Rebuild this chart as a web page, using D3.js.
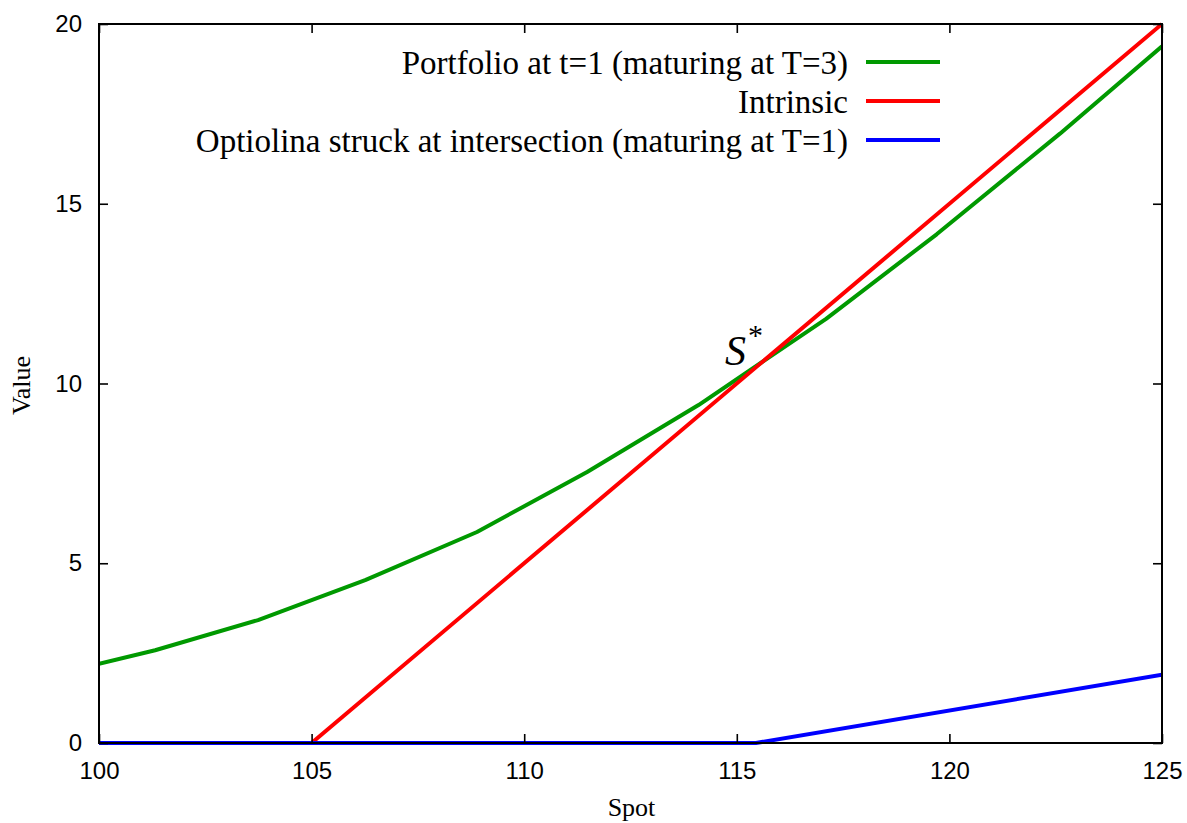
<!DOCTYPE html>
<html>
<head>
<meta charset="utf-8">
<script src="https://cdn.jsdelivr.net/npm/d3@7"></script>
<style>
  html, body { margin: 0; padding: 0; background: #fff; }
  svg { display: block; }
</style>
</head>
<body>
<svg id="chart" width="1187" height="823"></svg>
<script>
// Spot grid and values for each curve
const portfolioSpot  = [100, 101.32, 103.74, 106.26, 108.89, 111.48, 114.1, 117.1, 119.7, 122.6, 125];
const portfolioValue = [2.2, 2.58, 3.42, 4.53, 5.87, 7.54, 9.4, 11.8, 14.15, 16.95, 19.38];
const intrinsicSpot  = [100, 105, 125];
const intrinsicValue = [0, 0, 20];
const optiolinaSpot  = [100, 115.45, 125];
const optiolinaValue = [0, 0, 1.9];
const xTicks = [100, 105, 110, 115, 120, 125];
const yTicks = [0, 5, 10, 15, 20];
const seriesNames = [
  "Portfolio at t=1 (maturing at T=3)",
  "Intrinsic",
  "Optiolina struck at intersection (maturing at T=1)"
];
const seriesColors = ["#009900", "#ff0000", "#0000ff"];
const strikeSpot = 115.45;

const svg = d3.select("#chart");
const plot = { left: 99, right: 1162, top: 24, bottom: 743 };

const x = d3.scaleLinear().domain([100, 125]).range([plot.left, plot.right]);
const y = d3.scaleLinear().domain([0, 20]).range([plot.bottom, plot.top]);

const sansFont = "'Liberation Sans', Arial, sans-serif";
const serifFont = "'Liberation Serif', 'Times New Roman', serif";

// Curves
const series = [
  d3.zip(portfolioSpot, portfolioValue),
  d3.zip(intrinsicSpot, intrinsicValue),
  d3.zip(optiolinaSpot, optiolinaValue)
];
const line = d3.line().x(d => x(d[0])).y(d => y(d[1]));

svg.append("clipPath").attr("id", "plotClip")
  .append("rect")
  .attr("x", plot.left).attr("y", plot.top - 3)
  .attr("width", plot.right - plot.left).attr("height", plot.bottom - plot.top + 6);

svg.append("g").attr("clip-path", "url(#plotClip)")
  .selectAll("path")
  .data(series)
  .join("path")
  .attr("d", line)
  .attr("fill", "none")
  .attr("stroke", (d, i) => seriesColors[i])
  .attr("stroke-width", 4)
  .attr("stroke-linejoin", "round");

// Axes: ticks on all four sides, pointing inward
const tickLen = 9;
const axisStyle = g => {
  g.select(".domain").remove();
  g.selectAll(".tick line").attr("stroke", "#000").attr("stroke-width", 1.6);
  g.selectAll(".tick text").attr("fill", "#000");
};

svg.append("g")
  .attr("transform", `translate(0,${plot.bottom})`)
  .call(d3.axisBottom(x).tickValues(xTicks).tickSizeInner(-tickLen).tickSizeOuter(0).tickPadding(19).tickFormat(d3.format("d")))
  .call(axisStyle)
  .call(g => g.selectAll(".tick text").attr("font-family", sansFont).attr("font-size", 24));

svg.append("g")
  .attr("transform", `translate(0,${plot.top})`)
  .call(d3.axisTop(x).tickValues(xTicks).tickSizeInner(-tickLen).tickSizeOuter(0).tickFormat(""))
  .call(axisStyle);

svg.append("g")
  .attr("transform", `translate(${plot.left},0)`)
  .call(d3.axisLeft(y).tickValues(yTicks).tickSizeInner(-tickLen).tickSizeOuter(0).tickPadding(17).tickFormat(d3.format("d")))
  .call(axisStyle)
  .call(g => g.selectAll(".tick text").attr("font-family", sansFont).attr("font-size", 24));

svg.append("g")
  .attr("transform", `translate(${plot.right},0)`)
  .call(d3.axisRight(y).tickValues(yTicks).tickSizeInner(-tickLen).tickSizeOuter(0).tickFormat(""))
  .call(axisStyle);

// Frame
svg.append("rect")
  .attr("x", plot.left).attr("y", plot.top)
  .attr("width", plot.right - plot.left).attr("height", plot.bottom - plot.top)
  .attr("fill", "none").attr("stroke", "#000").attr("stroke-width", 2);

// Axis titles
svg.append("text")
  .attr("x", (plot.left + plot.right) / 2 + 1).attr("y", 816)
  .attr("text-anchor", "middle")
  .attr("font-family", serifFont).attr("font-size", 26)
  .text("Spot");

svg.append("text")
  .attr("transform", `translate(30,${(plot.top + plot.bottom) / 2 + 2}) rotate(-90)`)
  .attr("text-anchor", "middle")
  .attr("font-family", serifFont).attr("font-size", 26)
  .text("Value");

// Legend
const legend = svg.append("g");
const legendRows = [62, 101, 140];
seriesNames.forEach((name, i) => {
  legend.append("text")
    .attr("x", 848).attr("y", legendRows[i])
    .attr("dy", "0.35em")
    .attr("text-anchor", "end")
    .attr("font-family", serifFont).attr("font-size", 33)
    .text(name);
  legend.append("line")
    .attr("x1", 866).attr("x2", 940)
    .attr("y1", legendRows[i]).attr("y2", legendRows[i])
    .attr("stroke", seriesColors[i]).attr("stroke-width", 4);
});

// Intersection label
const sx = x(strikeSpot), sy = y(strikeSpot - 105);
const sLabel = svg.append("text")
  .attr("x", sx - 31).attr("y", sy - 2)
  .attr("font-family", serifFont).attr("font-size", 42);
sLabel.append("tspan").attr("font-style", "italic").text("S");
sLabel.append("tspan").attr("dy", -20).attr("dx", 2).attr("font-size", 30).text("*");
</script>
</body>
</html>
